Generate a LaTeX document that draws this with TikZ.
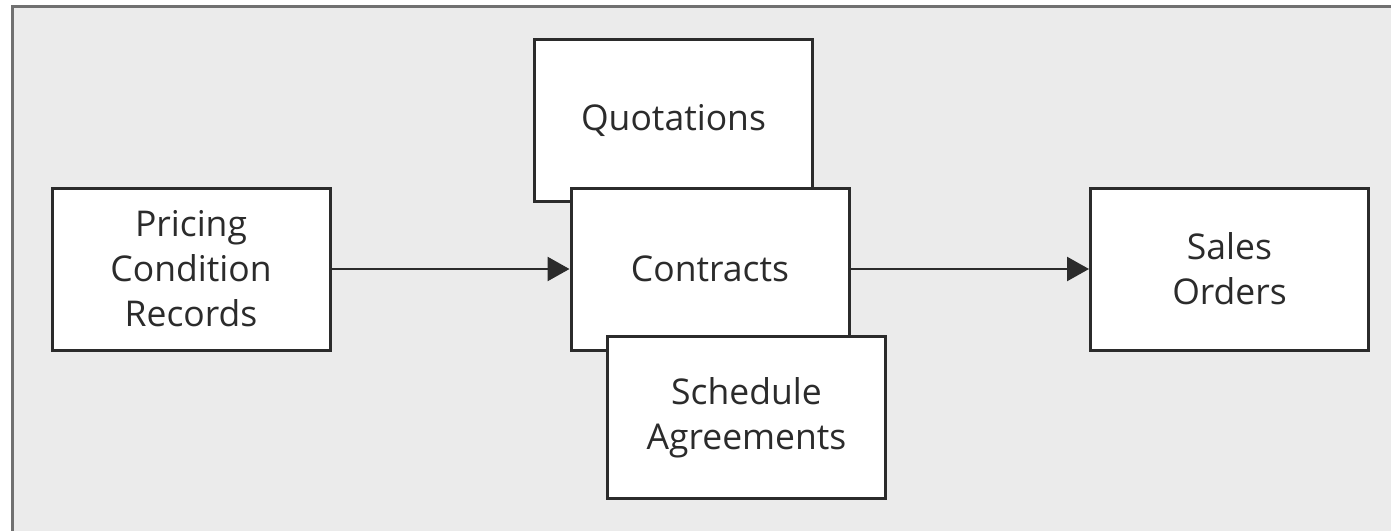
\documentclass[tikz,border=0pt]{standalone}
\usepackage{fontspec}
\setmainfont{Open Sans}
\usepackage{tikz}
\definecolor{gray100}{HTML}{EBEBEB}
\definecolor{gray600}{HTML}{707070}
\definecolor{gray900}{HTML}{2B2B2B}
\usetikzlibrary{arrows.meta}
\tikzstyle{documento}=[rectangle, draw=gray900, fill=white, line width=3pt, minimum width=278pt, minimum height=162pt, align=center, text=gray900, font=\fontsize{35.5}{45}\selectfont]
\tikzstyle{seta}=[draw=gray900, line width=2.5pt, -{Triangle[length=22pt,width=24pt]}]

\begin{document}
\begin{tikzpicture}[x=1pt, y=-1pt]
			\useasboundingbox (0,0) rectangle (1391,530);
			\path[fill=gray100, draw=gray600, line width=3pt] (12,6) rectangle (1400,540);
			\node[documento] (pricing) at (191,269) {Pricing\\Condition\\Records};
			\node[documento] (quotations) at (673.5,120.5) {Quotations};
			\node[documento] (contracts) at (710,269) {Contracts};
			\node[documento] (schedule) at (746.5,417.5) {Schedule\\Agreements};
			\node[documento] (sales) at (1229.5,269) {Sales\\Orders};
			\path[seta] (pricing)--(contracts);
			\path[seta] (contracts)--(sales);
		\end{tikzpicture}
\end{document}
